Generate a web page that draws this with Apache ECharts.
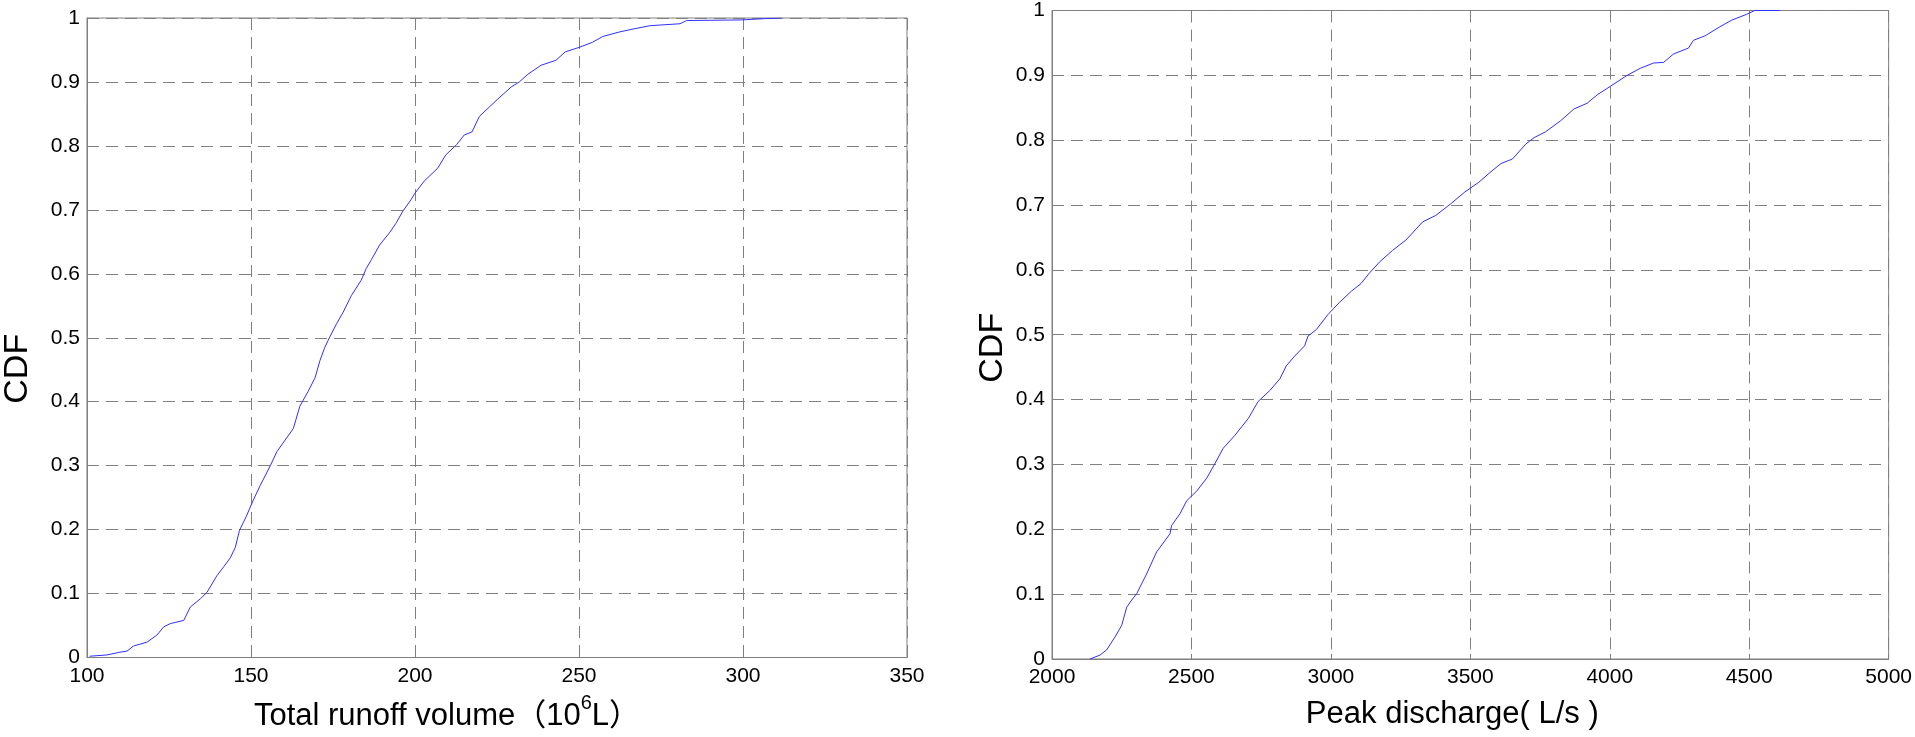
<!DOCTYPE html>
<html>
<head>
<meta charset="utf-8">
<title>CDF</title>
<script src="https://cdn.jsdelivr.net/npm/echarts@6/dist/echarts.min.js"></script>
<style>
html,body{margin:0;padding:0;background:#fff;}
#main{width:1915px;height:737px;}
</style>
</head>
<body>
<div id="main"></div>
<script>
// left panel: total runoff volume (10^6 L) vs CDF
var runoffX = [100.8,106.1,109.7,112.2,114.2,118.3,121.3,123.4,125.4,129.5,131.5,134.6,136.6,139.6,141.7,143.7,145.2,146.5,148.6,
    150.6,152.8,155.9,157.9,160.4,162.9,164.9,167.4,169.5,171.0,172.5,174.0,176.1,178.1,180.6,183.6,185.1,186.7,189.2,192.2,194.2,196.3,198.8,
    200.0,202.8,206.9,209.4,212.7,215.0,217.4,219.6,222.7,225.2,229.3,231.8,234.4,238.4,243.0,245.8,250.0,254.1,257.2,262.2,266.7,271.7,
    280.8,282.8,299.5,306.6,311.6];
var runoffY = [0.002,0.004,0.008,0.010,0.018,0.024,0.035,0.048,0.053,0.058,0.079,0.092,0.102,0.128,0.142,0.156,0.172,0.199,0.221,
    0.245,0.269,0.300,0.322,0.340,0.358,0.393,0.416,0.437,0.464,0.485,0.501,0.522,0.540,0.566,0.590,0.608,0.622,0.645,0.664,0.679,0.698,0.716,
    0.726,0.745,0.765,0.786,0.802,0.817,0.822,0.846,0.861,0.873,0.892,0.900,0.912,0.926,0.934,0.947,0.954,0.962,0.971,0.978,0.983,0.988,
    0.991,0.996,0.997,0.999,1.0];

// right panel: peak discharge (L/s) vs CDF
var peakX = [2136,2172,2196,2226,2250,2268,2286,2304,2339,2375,2423,2429,2459,2483,2519,2555,2585,2614,2656,2704,2739,2781,2817,2840,
    2870,2906,2918,2948,2989,3031,3073,3108,3138,3174,3221,3269,3329,3376,3430,3480,3530,3570,3610,3651,3699,3729,3770,3824,3871,3919,
    3955,4002,4062,4110,4157,4193,4229,4282,4300,4342,4395,4437,4490,4520,4610];
var peakY = [0,0.006,0.014,0.034,0.052,0.080,0.091,0.101,0.131,0.165,0.193,0.206,0.224,0.244,0.259,0.279,0.302,0.325,0.345,0.371,0.397,0.414,0.432,0.452,
    0.467,0.483,0.498,0.508,0.531,0.550,0.567,0.579,0.595,0.612,0.630,0.646,0.674,0.684,0.702,0.720,0.735,0.750,0.764,0.771,0.794,0.804,0.813,0.830,0.848,0.857,
    0.870,0.883,0.900,0.911,0.919,0.920,0.933,0.942,0.954,0.961,0.975,0.985,0.994,1.0,1.0];

var runoffTicks = {min:100, max:350, interval:50};
var peakTicks = {min:2000, max:5000, interval:500};

var FONT = '"Liberation Sans", Arial, "Noto Sans CJK SC", sans-serif';
var GREY = '#808080';

function pairs(xs, ys) {
    var out = [];
    for (var i = 0; i < xs.length; i++) out.push([xs[i], ys[i]]);
    return out;
}

function makeX(idx, t, name, pad, gap) {
    return {
        type:'value', gridIndex:idx, min:t.min, max:t.max, interval:t.interval,
        name:name, nameLocation:'middle', nameGap:gap,
        nameTextStyle:{fontSize:31, fontFamily:FONT, color:'#000', padding:pad,
            rich:{sup:{fontSize:20, fontFamily:FONT, color:'#000', verticalAlign:'top', padding:[0,0,26,0]}}},
        axisLine:{show:true, lineStyle:{color:GREY, width:1}},
        axisTick:{show:true, inside:true, length:5, lineStyle:{color:GREY}},
        axisLabel:{fontSize:21, fontFamily:FONT, color:'#000', margin:8,
            formatter:function (v) { return String(v); }},
        splitLine:{show:true, lineStyle:{color:GREY, width:1, type:[12,7]}}
    };
}
function makeY(idx, gap, pad) {
    return {
        type:'value', gridIndex:idx, min:0, max:1, interval:0.1,
        name:'CDF', nameLocation:'middle', nameGap:gap, nameRotate:90,
        nameTextStyle:{fontSize:34, fontFamily:FONT, color:'#000', padding:pad},
        axisLine:{show:true, lineStyle:{color:GREY, width:1}},
        axisTick:{show:true, inside:true, length:5, lineStyle:{color:GREY}},
        axisLabel:{fontSize:21, fontFamily:FONT, color:'#000', margin:7},
        splitLine:{show:true, lineStyle:{color:GREY, width:1, type:[12,7]}}
    };
}

var chart = echarts.init(document.getElementById('main'));
chart.setOption({
    animation:false,
    backgroundColor:'#fff',
    grid:[
        {left:82, top:18, width:825, height:641, show:true, borderColor:GREY, borderWidth:1},
        {left:1052, top:6, width:837, height:653, show:true, borderColor:GREY, borderWidth:1}
    ],
    xAxis:[
        makeX(0, runoffTicks, 'Total runoff volume（10{sup|6}L）', [0,100,0,0], 36),
        makeX(1, peakTicks, 'Peak discharge( L/s )', [0,36,0,0], 40)
    ],
    yAxis:[
        makeY(0, 52, [0,62,0,0]),
        makeY(1, 42, [0,26,0,0])
    ],
    series:[
        {type:'line', xAxisIndex:0, yAxisIndex:0, showSymbol:false, silent:true,
            lineStyle:{color:'#3030ff', width:1}, data:pairs(runoffX, runoffY)},
        {type:'line', xAxisIndex:1, yAxisIndex:1, showSymbol:false, silent:true,
            lineStyle:{color:'#3030ff', width:1}, data:pairs(peakX, peakY)}
    ]
});
</script>
</body>
</html>
